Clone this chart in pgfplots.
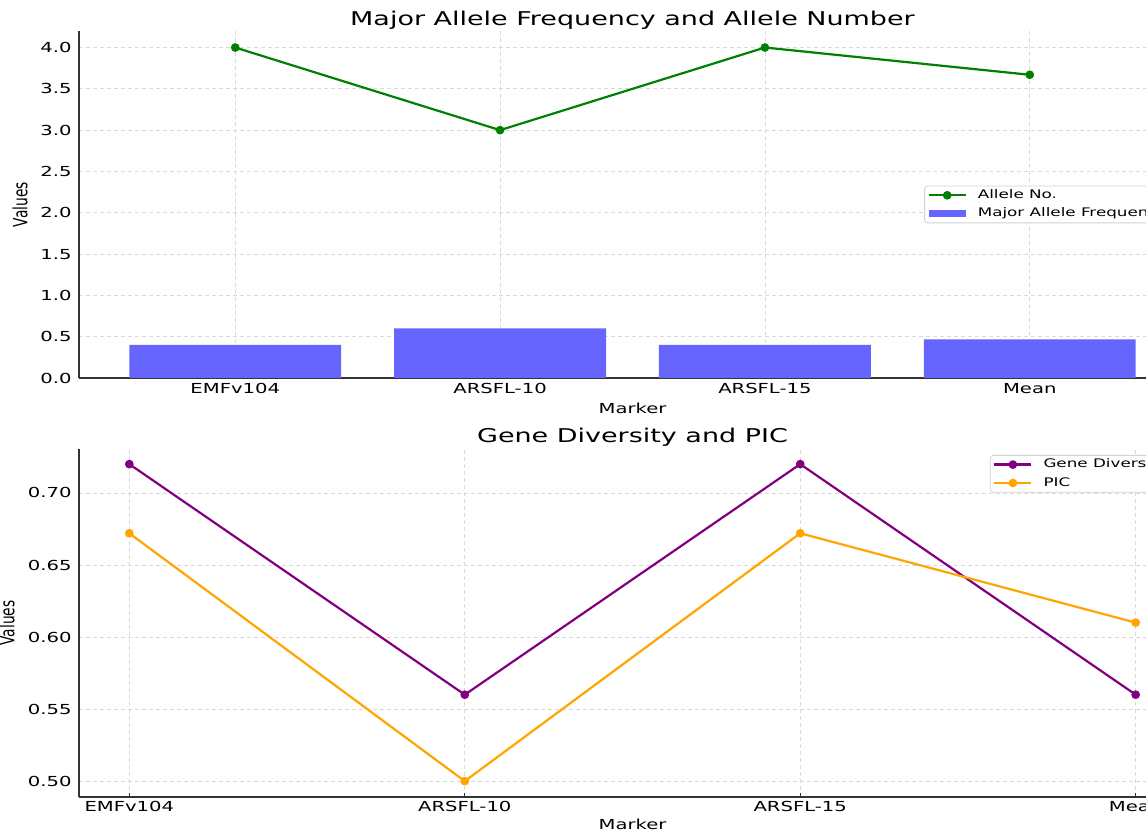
\documentclass[border=0pt]{standalone}
\usepackage{fontspec}
\usepackage{graphicx}
\usepackage{pgfplots}
\pgfplotsset{compat=1.18}
\setmainfont{DejaVu Sans}[FakeStretch=1.42]
\newfontfamily\plainfont{DejaVu Sans}
\definecolor{cgreen}{HTML}{008000}
\definecolor{cbar}{HTML}{6666FF}
\definecolor{cpurple}{HTML}{800080}
\definecolor{corange}{HTML}{FFA500}
\definecolor{cgrid}{HTML}{D9D9D9}
\definecolor{cspine}{HTML}{333333}
\newcommand{\tickfont}{\fontsize{6.9}{8}\selectfont}
\newcommand{\titlefont}{\fontsize{9.5}{11}\selectfont}
\newcommand{\legfont}{\fontsize{5.9}{7}\selectfont}
\pgfplotsset{
  mystyle/.style={
    scale only axis,
    width=553.5pt,
    axis lines*=left,
    axis line style={-, draw=cspine, line width=0.8pt},
    grid=major,
    major grid style={cgrid, line width=0.4pt, dash pattern=on 2pt off 1.5pt},
    tick label style={font=\tickfont},
    /pgf/number format/assume math mode=true,
    xtick={0,1,2,3},
    xticklabels={EMFv104, ARSFL-10, ARSFL-15, Mean},
    xtick align=inside,
    major tick length=2pt,
    xtick style={draw=cspine, line width=0.6pt},
    ytick style={draw=none},
    yticklabel style={inner sep=0pt, xshift=-3.5pt, anchor=east},
    title style={font=\titlefont, at={(axis description cs:0.5,1)}, anchor=base},
    xlabel style={font=\tickfont, at={(axis description cs:0.5,0)}, anchor=north, inner sep=0pt},
    ylabel style={at={(axis description cs:0,0.5)}, anchor=center, inner sep=0pt},
    legend cell align=left,
    legend image code/.code={\draw[mark repeat=2, mark phase=2, #1] plot coordinates {(0pt,0pt) (9.25pt,0pt) (18.5pt,0pt)};},
    legend style={font=\legfont, draw=gray!35, rounded corners=1.5pt, fill=white,
      inner xsep=1.5pt, inner ysep=0.8pt, row sep=1.6pt, column sep=4.5pt,
      nodes={inner sep=1pt, text height=4.4pt, text depth=1.2pt}},
  },
  linestyle/.style={line width=1.1pt, mark=*, mark size=1.6pt, mark options={xscale=1.4, solid}},
}
\begin{document}
\begin{tikzpicture}
\useasboundingbox (0,0) rectangle (573pt,417.5pt);
\clip (0,0) rectangle (573pt,417.5pt);
% top axis
\begin{axis}[mystyle,
  at={(39.5pt,228.5pt)}, anchor=south west,
  height=173.5pt,
  xmin=-0.59, xmax=3.59, ymin=0, ymax=4.2,
  ytick={0,0.5,1,1.5,2,2.5,3,3.5,4},
  yticklabel style={/pgf/number format/.cd, fixed, fixed zerofill, precision=1},
  xticklabel style={inner sep=0pt, yshift=-2.5pt, anchor=north},
  title={Major Allele Frequency and Allele Number},
  title style={yshift=-3.5pt},
  xlabel={Marker}, xlabel style={yshift=-12.5pt},
  ylabel={\scalebox{1}[1.42]{\tickfont\plainfont Values}},
  ylabel style={yshift=29.5pt},
  legend style={at={(axis description cs:1,0.5)}, anchor=east, xshift=-6.5pt},
]
\addplot[linestyle, draw=cgreen, mark options={fill=cgreen, draw=cgreen}] coordinates {(0,4) (1,3) (2,4) (3,3.67)};
\addlegendentry{Allele No.}
\addplot[ybar, bar width=0.8, fill=cbar, draw=none,
  legend image code/.code={\fill[cbar, sharp corners] (0pt,-1.6pt) rectangle (18.5pt,1.6pt);}]
  coordinates {(0,0.4) (1,0.6) (2,0.4) (3,0.467)};
\addlegendentry{Major Allele Frequency}
\end{axis}
% bottom axis
\begin{axis}[mystyle,
  at={(39.5pt,19pt)}, anchor=south west,
  height=174pt,
  xmin=-0.15, xmax=3.15, ymin=0.489, ymax=0.7305,
  ytick={0.5,0.55,0.6,0.65,0.7},
  yticklabel style={/pgf/number format/.cd, fixed, fixed zerofill, precision=2},
  xticklabel style={inner sep=0pt, yshift=-2pt, anchor=north},
  title={Gene Diversity and PIC},
  title style={yshift=-3pt},
  xlabel={Marker}, xlabel style={yshift=-11pt},
  ylabel={\scalebox{1}[1.42]{\tickfont\plainfont Values}},
  ylabel style={yshift=36pt},
  legend style={at={(axis description cs:1,1)}, anchor=north east, xshift=-6.5pt, yshift=-3pt},
]
\addplot[linestyle, draw=cpurple, mark options={fill=cpurple, draw=cpurple}] coordinates {(0,0.72) (1,0.56) (2,0.72) (3,0.56)};
\addlegendentry{Gene Diversity}
\addplot[linestyle, draw=corange, mark options={fill=corange, draw=corange}] coordinates {(0,0.672) (1,0.5) (2,0.672) (3,0.61)};
\addlegendentry{PIC}
\end{axis}
\end{tikzpicture}
\end{document}
